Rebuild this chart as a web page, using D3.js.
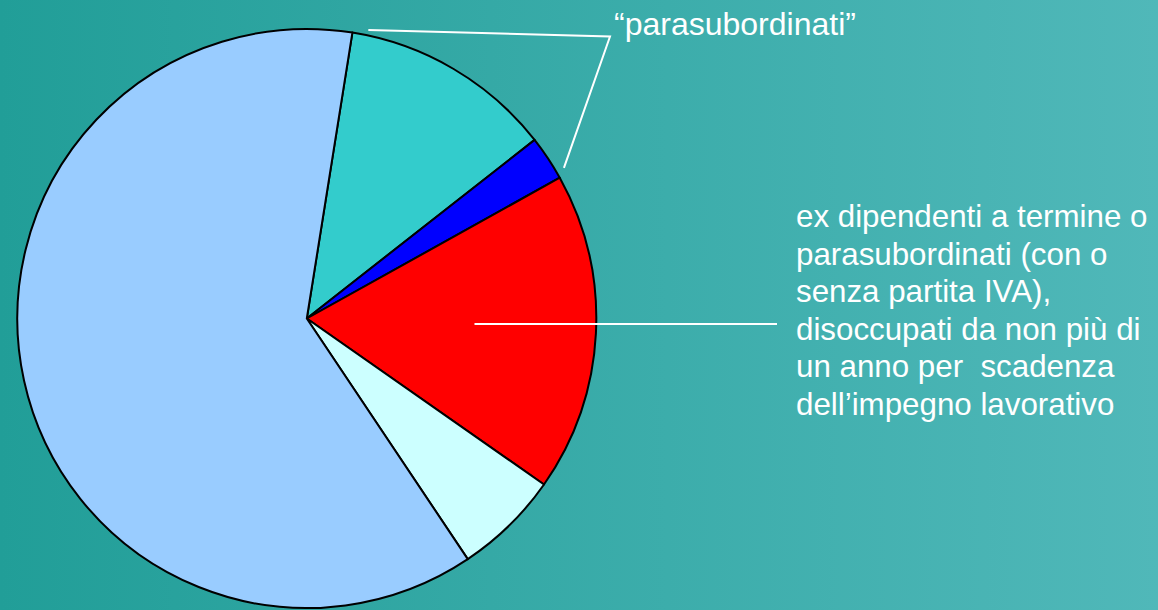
<!DOCTYPE html>
<html>
<head>
<meta charset="utf-8">
<script src="https://cdn.jsdelivr.net/npm/d3@7"></script>
<style>
  body { margin: 0; overflow: hidden; }
  svg { display: block; }
</style>
</head>
<body>
<script>
// slices, clockwise from the top
var categories = ['parasubordinati', 'parasubordinati con partita IVA', 'ex dipendenti a termine o parasubordinati disoccupati', 'altri disoccupati', 'altri']
var values = [11.9, 2.5, 17.8, 5.9, 61.9]

var bracketLabel = '\u201cparasubordinati\u201d'
var bracketSlices = ['parasubordinati', 'parasubordinati con partita IVA']
var calloutSlice = 'ex dipendenti a termine o parasubordinati disoccupati'
var calloutLines = [
  'ex dipendenti a termine o',
  'parasubordinati (con o',
  'senza partita IVA),',
  'disoccupati da non pi\u00f9 di',
  'un anno per  scadenza',
  'dell\u2019impegno lavorativo'
]

var width = 1158, height = 610
var cx = 306.8, cy = 318.5, radius = 289.5
var startDeg = 9.06

var colour = d3.scaleOrdinal()
  .domain(categories)
  .range(['#33cccc', '#0000ff', '#ff0000', '#ccffff', '#99ccff'])

var svg = d3.select('body').append('svg')
  .attr('width', width)
  .attr('height', height)

var grad = svg.append('defs').append('linearGradient')
  .attr('id', 'bg')
  .attr('x1', 0).attr('x2', 1).attr('y1', 0).attr('y2', 0)
grad.append('stop').attr('offset', 0).attr('stop-color', '#219e98')
grad.append('stop').attr('offset', 1).attr('stop-color', '#50b8b9')

svg.append('rect')
  .attr('width', width)
  .attr('height', height)
  .attr('fill', 'url(#bg)')

var data = categories.map((c, i) => ({name: c, value: values[i]}))

var startA = startDeg * Math.PI / 180
var pie = d3.pie()
  .sort(null)
  .value(d => d.value)
  .startAngle(startA)
  .endAngle(startA + 2 * Math.PI)

var arcs = pie(data)
var arc = d3.arc().innerRadius(0).outerRadius(radius)

var g = svg.append('g').attr('transform', 'translate(' + cx + ',' + cy + ')')

g.selectAll('path')
  .data(arcs)
  .enter()
  .append('path')
  .attr('d', arc)
  .attr('fill', d => colour(d.data.name))
  .attr('stroke', '#000')
  .attr('stroke-width', 2)
  .attr('stroke-linejoin', 'round')

// polar helper, angle measured clockwise from 12 o'clock
function polar(a, r) {
  return [cx + r * Math.sin(a), cy - r * Math.cos(a)]
}

var font = '"Liberation Sans", Arial, sans-serif'

// "parasubordinati" bracket line
var bArcs = arcs.filter(d => bracketSlices.indexOf(d.data.name) >= 0)
var bStart = d3.min(bArcs, d => d.startAngle)
var bEnd = d3.max(bArcs, d => d.endAngle)
var titleX = 614, titleY = 34.5
var p1 = polar(bStart + 0.052, radius + 5.5)
var p3 = polar(bEnd - 0.022, radius + 8.5)

svg.append('polyline')
  .attr('points', [p1, [titleX - 4, titleY + 2], p3].map(p => p.join(',')).join(' '))
  .attr('fill', 'none')
  .attr('stroke', '#fff')
  .attr('stroke-width', 2)

svg.append('text')
  .attr('x', titleX)
  .attr('y', titleY)
  .attr('fill', '#fff')
  .style('font-family', font)
  .style('font-size', '32px')
  .text(bracketLabel)

// callout for the red slice
var cArc = arcs.find(d => d.data.name === calloutSlice)
var cMid = (cArc.startAngle + cArc.endAngle) / 2
var cPt = polar(cMid, radius * 0.58)
var textX = 796, firstBase = 227, lineGap = 37.6
var lineY = 324

svg.append('line')
  .attr('x1', cPt[0])
  .attr('x2', textX - 19)
  .attr('y1', lineY)
  .attr('y2', lineY)
  .attr('stroke', '#fff')
  .attr('stroke-width', 2)

svg.append('text')
  .attr('fill', '#fff')
  .style('font-family', font)
  .style('font-size', '31.3px')
  .style('white-space', 'pre')
  .selectAll('tspan')
  .data(calloutLines)
  .enter()
  .append('tspan')
  .attr('x', textX)
  .attr('y', (d, i) => firstBase + i * lineGap)
  .text(d => d)
</script>
</body>
</html>
